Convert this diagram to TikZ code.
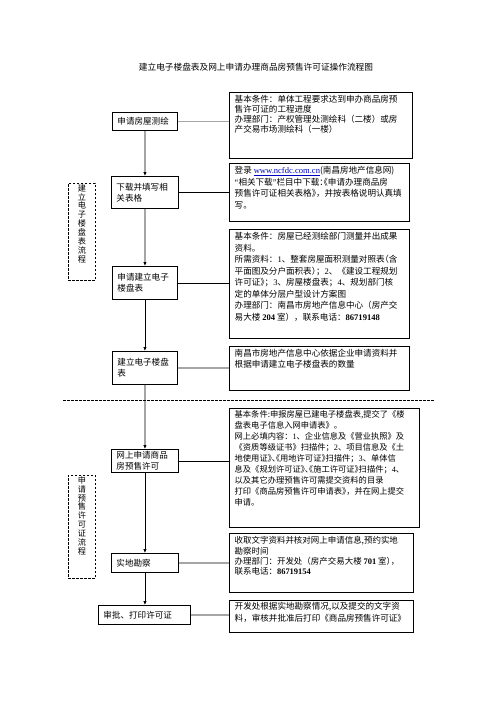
\documentclass[tikz,border=0pt]{standalone}
\usepackage{fontspec}
\setmainfont{Noto Sans CJK SC}
\newfontfamily\latf{Liberation Serif}
\usetikzlibrary{arrows.meta}
\newcommand\hcl[1]{\makebox[.5em][l]{#1}}
\newcommand\hop[1]{\makebox[.5em][r]{#1}}
\newcommand\lnum[1]{{\latf #1}}
\newcommand\bnum[1]{{\latf\bfseries #1}}
\tikzset{
  stepbox/.style={draw, line width=0.9bp, anchor=north west, inner xsep=5bp,
    inner ysep=1bp, align=left, font=\fontsize{8.6}{11}\selectfont},
  infobox/.style={draw, line width=0.9bp, anchor=north west, inner sep=0pt},
  infotext/.style={anchor=north west, inner xsep=5.5bp, inner ysep=3.5bp,
    align=left, font=\fontsize{8.6}{#1}\selectfont},
  groupbox/.style={draw, dash pattern=on 2.5bp off 1.5bp, line width=0.8bp,
    anchor=north west, inner sep=0pt},
  grouptext/.style={anchor=north, inner sep=1bp, align=center,
    font=\fontsize{8.2}{9}\selectfont},
  flow/.style={line width=0.9bp, -{Latex[length=4bp,width=3.5bp]}},
  link/.style={line width=0.9bp},
  greylink/.style={line width=1.4bp, gray!70},
}
\begin{document}
\begin{tikzpicture}[x=1bp,y=-1bp]
  \useasboundingbox (0,0) rectangle (496,702);
  \node[font=\fontsize{8.7}{10}\selectfont] (title) at (256,67)
    {建立电子楼盘表及网上申请办理商品房预售许可证操作流程图};

  % steps
  \node[stepbox, text width=55bp, minimum height=18bp] (survey) at (112,112) {申请房屋测绘};
  \node[stepbox, text width=57bp, minimum height=32bp] (download) at (111,176) {下载并填写相\\关表格};
  \node[stepbox, text width=55bp, minimum height=33bp] (applytable) at (112,266) {申请建立电子\\楼盘表};
  \node[stepbox, text width=55bp, minimum height=33bp] (buildtable) at (112,351) {建立电子楼盘\\表};
  \node[stepbox, text width=57bp, minimum height=23bp] (online) at (111,449) {网上申请商品\\房预售许可};
  \node[stepbox, text width=57bp, minimum height=19bp] (inspect) at (111,553) {实地勘察};
  \node[stepbox, text width=82bp, minimum height=19bp] (approve) at (98,605) {审批、打印许可证};

  % notes
  \node[infobox, minimum width=183bp, minimum height=66bp] (surveyinfo) at (229,92) {};
  \node[infotext=10] (surveytext) at (surveyinfo.north west)
    {基本条件：单体工程要求达到申办商品房预\\售许可证的工程进度\\
     办理部门：产权管理处测绘科（二楼）或房\\产交易市场测绘科（一楼）};
  \node[infobox, minimum width=180bp, minimum height=58bp] (downloadinfo) at (229,163) {};
  \node[infotext=11.5] (downloadtext) at (downloadinfo.north west)
    {登录 \textcolor{blue!75!black}{\underline{\lnum{www.ncfdc.com.cn}}}(南昌房地产信息网)\\
     \lnum{“}相关下载\lnum{”}栏目中下载\hcl{：}\hop{《}申请办理商品房\\
     预售许可证相关表格\hcl{》}，并按表格说明认真填\\写。};
  \node[infobox, minimum width=180bp, minimum height=109bp] (applyinfo) at (229,229) {};
  \node[infotext=11.5] (applytext) at (applyinfo.north west)
    {基本条件：房屋已经测绘部门测量并出成果\\资料。\\
     所需资料：\lnum{1}、整套房屋面积测量对照表\hop{（}含\\
     平面图及分户面积表\hcl{）}；\lnum{2}、《建设工程规划\\
     许可证\hcl{》}；\lnum{3}、房屋楼盘表；\lnum{4}、规划部门核\\
     定的单体分层户型设计方案图\\
     办理部门：南昌市房地产信息中心（房产交\\
     易大楼 \bnum{204} 室），联系电话：\bnum{86719148}};
  \node[infobox, minimum width=180bp, minimum height=44bp] (buildinfo) at (229,346) {};
  \node[infotext=11] (buildtext) at (buildinfo.north west)
    {南昌市房地产信息中心依据企业申请资料并\\根据申请建立电子楼盘表的数量};
  \node[infobox, minimum width=190bp, minimum height=119bp] (onlineinfo) at (229,408) {};
  \node[infotext=11, font=\fontsize{8.3}{11}\selectfont, inner ysep=2.5bp] (onlinetext) at (onlineinfo.north west)
    {基本条件:申报房屋已建电子楼盘表,提交了《楼\\盘表电子信息入网申请表》。\\
     网上必填内容：\lnum{1}、企业信息及《营业执照》及\\
     《资质等级证书》扫描件；\lnum{2}、项目信息及《土\\
     地使用证\hcl{》}\hcl{、}\hop{《}用地许可证\hcl{》}扫描件；\lnum{3}、单体信\\
     息及《规划许可证\hcl{》}\hcl{、}\hop{《}施工许可证\hcl{》}扫描件；\lnum{4}、\\
     以及其它办理预售许可需提交资料的目录\\
     打印《商品房预售许可申请表\hcl{》}，并在网上提交\\申请。};
  \node[infobox, minimum width=184bp, minimum height=59bp] (inspectinfo) at (229,533) {};
  \node[infotext=10.3, font=\fontsize{8.5}{10.3}\selectfont] (inspecttext) at (inspectinfo.north west)
    {收取文字资料并核对网上申请信息,预约实地\\勘察时间\\
     办理部门：开发处（房产交易大楼 \bnum{701} 室\hcl{）}，\\
     联系电话：\bnum{86719154}};
  \node[infobox, minimum width=184bp, minimum height=32bp] (approveinfo) at (229,600) {};
  \node[infotext=12, inner ysep=2.5bp] (approvetext) at (approveinfo.north west)
    {开发处根据实地勘察情况,以及提交的文字资\\料，审核并批准后打印《商品房预售许可证》};

  % stages
  \node[groupbox, minimum width=27bp, minimum height=97bp] (stageone) at (68,183) {};
  \node[grouptext] (stageonetext) at (stageone.north) {建\\立\\电\\子\\楼\\盘\\表\\流\\程};
  \node[groupbox, minimum width=27bp, minimum height=103bp] (stagetwo) at (68,475) {};
  \node[grouptext] (stagetwotext) at (stagetwo.north) {申\\请\\预\\售\\许\\可\\证\\流\\程};
  \draw[line width=0.8bp, dash pattern=on 2.5bp off 1.5bp] (63,400) -- (435,400);

  % flow
  \draw[flow] (survey.south) -- (download.north);
  \draw[flow] (download.south) -- (applytable.north);
  \draw[flow] (applytable.south) -- (buildtable.north);
  \draw[flow] (buildtable.south) -- (online.north);
  \draw[flow] (online.south) -- (inspect.north);
  \draw[flow] (inspect.south) -- (inspect.south |- approve.north);

  \draw[greylink] (survey.east) -- (survey.east -| surveyinfo.west);
  \draw[link] (download.east) -- (download.east -| downloadinfo.west);
  \draw[link] (applytable.east) -- (applytable.east -| applyinfo.west);
  \draw[greylink] (buildtable.east) -- (buildtable.east -| buildinfo.west);
  \draw[link] (online.east) -- (online.east -| onlineinfo.west);
  \draw[greylink] (inspect.east) -- (inspect.east -| inspectinfo.west);
  \draw[greylink] (approve.east) -- (approve.east -| approveinfo.west);
\end{tikzpicture}
\end{document}
